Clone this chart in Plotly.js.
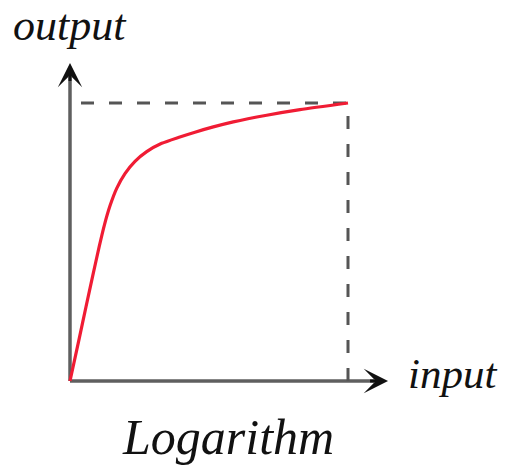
<!DOCTYPE html>
<html>
<head>
<meta charset="utf-8">
<script src="https://cdn.plot.ly/plotly-3.0.1.min.js"></script>
<style>
  html, body { margin: 0; padding: 0; background: #fff; }
  #chart { width: 505px; height: 469px; }
</style>
</head>
<body>
<div id="chart"></div>
<script>
// Logarithmic response: input on x, output on y (both normalised to 0..1)
const inputValues  = [0, 0.0335, 0.0576, 0.0817, 0.1054, 0.1234, 0.1439, 0.168, 0.1978, 0.2338,
                      0.2759, 0.3299, 0.3896, 0.4496, 0.5155, 0.5874, 0.7076, 0.8273, 1.0];
const outputValues = [0, 0.154, 0.267, 0.378, 0.485, 0.560, 0.630, 0.693, 0.746, 0.790,
                      0.825, 0.855, 0.876, 0.895, 0.914, 0.932, 0.956, 0.976, 1.0];

// Guide lines dropped from the end of the curve to both axes
const lastX = inputValues[inputValues.length - 1];
const lastY = outputValues[outputValues.length - 1];
const guideX = [lastX, lastX, 0];
const guideY = [0, lastY, lastY];

const labelX = 'input';
const labelY = 'output';
const chartTitle = 'Logarithm';

const W = 505, H = 469;
const unit = 278;           // pixels per unit on both axes
const originPx = [70, 381]; // origin position in the page
const xr = [-originPx[0] / unit, (W - originPx[0]) / unit];
const yr = [-(H - originPx[1]) / unit, originPx[1] / unit];

const xTip = 1.144, yTip = 1.144;
const axisColor = 'rgb(95,95,95)';
const serif = '"Liberation Serif", "DejaVu Serif", serif';

const traces = [
  {
    x: guideX, y: guideY, mode: 'lines', hoverinfo: 'skip',
    line: { color: 'rgb(85,85,85)', width: 3, dash: '13px,15px' }
  },
  {
    x: inputValues, y: outputValues, mode: 'lines', hoverinfo: 'skip',
    line: { color: 'rgb(240,28,52)', width: 3.2, shape: 'spline', smoothing: 0.6 }
  }
];

const layout = {
  width: W, height: H,
  margin: { l: 0, r: 0, t: 0, b: 0 },
  paper_bgcolor: '#fff', plot_bgcolor: '#fff',
  showlegend: false,
  xaxis: { range: xr, visible: false, fixedrange: true },
  yaxis: { range: yr, visible: false, fixedrange: true },
  shapes: [
    { type: 'line', xref: 'x', yref: 'y', x0: 0, y0: 0, x1: xTip - 0.05, y1: 0,
      line: { color: axisColor, width: 3.5 }, layer: 'below' },
    { type: 'line', xref: 'x', yref: 'y', x0: 0, y0: 0, x1: 0, y1: yTip - 0.05,
      line: { color: axisColor, width: 3.5 }, layer: 'below' }
  ],
  annotations: [
    // arrow heads
    { x: xTip, y: 0, ax: xTip - 0.07, ay: 0, xref: 'x', yref: 'y', axref: 'x', ayref: 'y',
      text: '', showarrow: true, arrowhead: 3, arrowsize: 1.35, arrowwidth: 3, arrowcolor: '#111' },
    { x: 0, y: yTip, ax: 0, ay: yTip - 0.07, xref: 'x', yref: 'y', axref: 'x', ayref: 'y',
      text: '', showarrow: true, arrowhead: 3, arrowsize: 1.35, arrowwidth: 3, arrowcolor: '#111' },
    // labels
    { text: labelY, xref: 'paper', yref: 'paper', x: 11 / W, y: 1 - 25 / H,
      xanchor: 'left', yanchor: 'middle', showarrow: false,
      font: { family: serif, size: 44, color: '#111', style: 'italic' } },
    { text: labelX, xref: 'paper', yref: 'paper', x: 406 / W, y: 1 - 373 / H,
      xanchor: 'left', yanchor: 'middle', showarrow: false,
      font: { family: serif, size: 43, color: '#111', style: 'italic' } },
    { text: chartTitle, xref: 'paper', yref: 'paper', x: 228 / W, y: 1 - 437 / H,
      xanchor: 'center', yanchor: 'middle', showarrow: false,
      font: { family: serif, size: 50, color: '#111', style: 'italic' } }
  ]
};

Plotly.newPlot('chart', traces, layout, { staticPlot: true, displayModeBar: false });
</script>
</body>
</html>
